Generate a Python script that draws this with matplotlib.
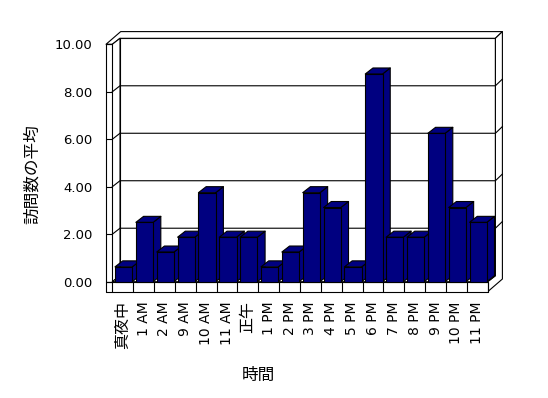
import numpy as np
import matplotlib
matplotlib.use("Agg")
import matplotlib.pyplot as plt
from matplotlib.patches import Polygon

plt.rcParams['font.family'] = ['DejaVu Sans', 'Noto Sans CJK JP']

# data
hours = ['真夜中', '1 AM', '2 AM', '9 AM', '10 AM', '11 AM', '正午', '1 PM', '2 PM',
         '3 PM', '4 PM', '5 PM', '6 PM', '7 PM', '8 PM', '9 PM', '10 PM', '11 PM']
avg_visits = [0.625, 2.5, 1.25, 1.875, 3.75, 1.875, 1.875, 0.625, 1.25,
              3.75, 3.125, 0.625, 8.75, 1.875, 1.875, 6.25, 3.125, 2.5]
yticks = [0, 2, 4, 6, 8, 10]

W, H = 548, 398
fig = plt.figure(figsize=(W / 100, H / 100), dpi=100)
# front plane of the fake 3d box
ax = fig.add_axes([112.3 / W, (H - 281.7) / H, 375.4 / W, 237.4 / H])
n = len(hours)
ax.set_xlim(0, n)
ax.set_ylim(0, 10)
for s in ax.spines.values():
    s.set_visible(False)

# pixel sizes -> data units
px_x = 375.4 / n
px_y = 237.4 / 10
dx, dy = 7.7 / px_x, 6.0 / px_y      # depth of the plot area
tx, ty = 7.0 / px_x, 6.7 / px_y      # wall thickness
lw_ = 6.3 / px_x                     # left wall front width
fh = 10.0 / px_y                     # floor thickness
navy = '#000080'
LW = 0.8


def face(pts, fc='white', z=1):
    ax.add_patch(Polygon(pts, closed=True, fc=fc, ec='black', lw=LW,
                         clip_on=False, zorder=z, joinstyle='round'))


# back wall
face([(dx, dy), (n + dx, dy), (n + dx, 10 + dy), (dx, 10 + dy)])
# top of walls
face([(-lw_, 10), (0, 10), (dx, 10 + dy), (n + dx, 10 + dy),
      (n + dx + tx, 10 + dy + ty), (-lw_ + dx + tx, 10 + dy + ty)])
# right side of back wall + floor
face([(n + dx, 10 + dy), (n + dx + tx, 10 + dy + ty), (n + dx + tx, -fh + dy + ty),
      (n, -fh), (n, 0), (n + dx, dy)])
# left wall
face([(0, 0), (dx, dy), (dx, 10 + dy), (0, 10)])
face([(-lw_, 0), (0, 0), (0, 10), (-lw_, 10)])
# floor
face([(0, 0), (n, 0), (n + dx, dy), (dx, dy)])
face([(-lw_, -fh), (n, -fh), (n, 0), (-lw_, 0)])

# gridlines on walls
for v in yticks[1:-1]:
    ax.plot([0, dx, n + dx, n + dx + tx], [v, v + dy, v + dy, v + dy + ty],
            color='black', lw=LW, clip_on=False, zorder=1.5)

# bars
b0, b1 = 0.13, 0.957
for i, v in enumerate(avg_visits):
    x0, x1 = i + b0, i + b1
    face([(x1, 0), (x1 + dx, dy), (x1 + dx, v + dy), (x1, v)], fc=navy, z=2)
    face([(x0, v), (x1, v), (x1 + dx, v + dy), (x0 + dx, v + dy)], fc=navy, z=2)
    face([(x0, 0), (x1, 0), (x1, v), (x0, v)], fc=navy, z=2)

# axes ticks
ax.set_yticks(yticks, [f'{v:.2f}' for v in yticks])
ax.tick_params(axis='y', length=4.5, width=LW, pad=10, labelsize=9.5, direction='out')
ax.set_xticks(np.arange(n) + 0.5, hours, rotation=90)
ax.set_xticks(np.arange(n + 1), minor=True)
ax.tick_params(axis='x', which='major', length=0, pad=14, labelsize=10)
ax.tick_params(axis='x', which='minor', length=7.2, width=LW, direction='out')
for lab in ax.get_xticklabels():
    if not lab.get_text()[0].isascii():
        lab.set_fontsize(11.5)

fig.text(258 / W, 1 - 375 / H, '時間', ha='center', va='center', fontsize=12)
fig.text(32 / W, 1 - 174 / H, '訪問数の平均', ha='center', va='center',
         rotation=90, fontsize=12)

fig.savefig('out.png', dpi=100)
